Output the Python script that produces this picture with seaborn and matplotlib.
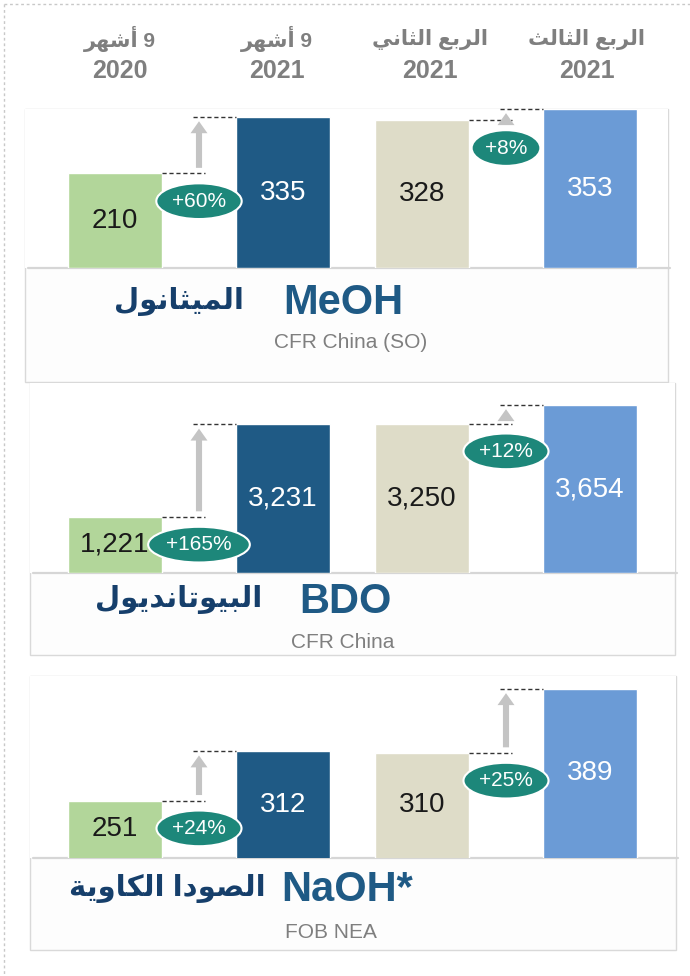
import matplotlib
matplotlib.use('Agg')
import matplotlib.pyplot as plt
import seaborn as sns

# values
periods = ['9 أشهر', '9 أشهر', 'الربع الثاني', 'الربع الثالث']
years = ['2020', '2021', '2021', '2021']
products = ['MeOH', 'BDO', 'NaOH*']
products_ar = ['الميثانول', 'البيوتانديول', 'الصودا الكاوية']
markets = ['CFR China (SO)', 'CFR China', 'FOB NEA']
meoh = [210, 335, 328, 353]
bdo = [1221, 3231, 3250, 3654]
naoh = [251, 312, 310, 389]
meoh_chg = ['+60%', '+8%']
bdo_chg = ['+165%', '+12%']
naoh_chg = ['+24%', '+25%']

series = [meoh, bdo, naoh]
changes = [meoh_chg, bdo_chg, naoh_chg]

# colours
bar_cols = ['#b2d69a', '#1f5a85', '#dedcc8', '#6b9bd6']
lbl_cols = ['#1a1a1a', 'white', '#1a1a1a', 'white']
teal = '#1d877a'
navy = '#1f5a85'
gray_txt = '#7f7f7f'

# layout, in pixels of the 690x976 picture
W, H = 690, 976
panel_box = [(25, 109, 668, 382), (30, 383, 675, 655), (30, 676, 676, 950)]
baseline_y = [268, 573, 858]
top_y = [109, 405, 689]
y_floor = [0, 0, 180]
pair_centers = [(115, 283), (422, 590)]
step = 168
bar_w = 0.554
head_x = [120, 277, 430, 587]
title_y = [303, 602, 890]
title_x = [343, 345, 347]
ar_right = [244, 262, 266]
sub_y = [342, 643, 933]
sub_x = [351, 343, 331]

sns.set_theme(style='white')
plt.rcParams['font.family'] = ['Liberation Sans', 'DejaVu Sans']

# tiny Arabic shaper: contextual forms + visual (right-to-left) order
AR = {
    'ا': 'ﺍﺎ', 'أ': 'ﺃﺄ', 'ب': 'ﺏﺐﺑﺒ', 'ة': 'ﺓﺔ', 'ت': 'ﺕﺖﺗﺘ', 'ث': 'ﺙﺚﺛﺜ',
    'د': 'ﺩﺪ', 'ر': 'ﺭﺮ', 'ش': 'ﺵﺶﺷﺸ', 'ص': 'ﺹﺺﺻﺼ', 'ع': 'ﻉﻊﻋﻌ',
    'ك': 'ﻙﻚﻛﻜ', 'ل': 'ﻝﻞﻟﻠ', 'م': 'ﻡﻢﻣﻤ', 'ن': 'ﻥﻦﻧﻨ', 'ه': 'ﻩﻪﻫﻬ',
    'و': 'ﻭﻮ', 'ي': 'ﻱﻲﻳﻴ',
}


def shape_word(w):
    out = []
    for i, ch in enumerate(w):
        if ch not in AR:
            out.append(ch)
            continue
        prev_j = i > 0 and w[i - 1] in AR and len(AR[w[i - 1]]) == 4
        next_j = i < len(w) - 1 and w[i + 1] in AR and len(AR[ch]) == 4
        f = AR[ch]
        if prev_j and next_j:
            out.append(f[3])
        elif prev_j:
            out.append(f[1])
        elif next_j:
            out.append(f[2])
        else:
            out.append(f[0])
    return ''.join(out)[::-1]


def ar(s):
    toks = [shape_word(t) if any(c in AR for c in t) else t for t in s.split(' ')]
    return ' '.join(toks[::-1])


def px_axes(x0, y0, x1, y1):
    return fig.add_axes([x0 / W, 1 - y1 / H, (x1 - x0) / W, (y1 - y0) / H])


fig = plt.figure(figsize=(W / 100, H / 100), dpi=100)
bg = px_axes(0, 0, W, H)
bg.set_xlim(0, W)
bg.set_ylim(H, 0)
bg.axis('off')

# outer dashed frame
bg.plot([4, W], [4, 4], color='#c8c8c8', lw=1, ls=(0, (2, 2)))
bg.plot([4, 4], [4, H], color='#c8c8c8', lw=1, ls=(0, (2, 2)))

# column headers
for i in range(4):
    bg.text(head_x[i], 39, ar(periods[i]), ha='center', va='center',
            fontsize=15, fontweight='bold', color=gray_txt)
    bg.text(head_x[i], 71, years[i], ha='center', va='center',
            fontsize=18, fontweight='bold', color=gray_txt)

for p in range(3):
    x0, y0, x1, y1 = panel_box[p]
    bg.add_patch(plt.Rectangle((x0, y0), x1 - x0, y1 - y0, fc='#fdfdfd',
                               ec='#d9d9d9', lw=1))
    bg.add_patch(plt.Rectangle((x0, y0), x1 - x0, baseline_y[p] - y0, fc='white',
                               ec='none'))
    bg.plot([x0 + 3, x1 + 2], [baseline_y[p]] * 2, color='#d6d6d6', lw=1.6)
    bg.text(title_x[p], title_y[p], products[p], ha='center', va='center',
            fontsize=30, fontweight='bold', color=navy)
    bg.text(ar_right[p], title_y[p] - 2, ar(products_ar[p]), ha='right', va='center',
            fontsize=21, fontweight='bold', color='#163f6b')
    bg.text(sub_x[p], sub_y[p], markets[p], ha='center', va='center',
            fontsize=15, color=gray_txt)

    vals = series[p]
    for k in range(2):
        c0, c1 = pair_centers[k]
        ax = px_axes(c0 - step / 2, top_y[p], c1 + step / 2, baseline_y[p])
        cats = [periods[2 * k + j] + ' ' + years[2 * k + j] for j in range(2)]
        v = vals[2 * k:2 * k + 2]
        sns.barplot(x=cats, y=v, hue=cats, order=cats, hue_order=cats,
                    palette=bar_cols[2 * k:2 * k + 2], width=bar_w, saturation=1,
                    errorbar=None, legend=False, ax=ax)
        ax.set_xlim(-0.5, 1.5)
        ax.set_ylim(y_floor[p], max(vals))
        ax.axis('off')
        for j, cont in enumerate(ax.containers):
            ax.bar_label(cont, labels=[f'{v[j]:,}'], label_type='center',
                         fontsize=20, color=lbl_cols[2 * k + j])
        lo, hi = v
        ax.plot([bar_w / 2, 0.535], [lo, lo], color='#333333', lw=1,
                ls=(0, (3, 2)), clip_on=False)
        ax.plot([0.465, 1 - bar_w / 2], [hi, hi], color='#333333', lw=1,
                ls=(0, (3, 2)), clip_on=False)
        ax.annotate('', xy=(0.5, hi), xytext=(0.5, lo),
                    arrowprops=dict(arrowstyle='simple,head_width=0.61,head_length=0.43,tail_width=0.22',
                                    mutation_scale=20, color='#c4c4c4', lw=0,
                                    shrinkA=4, shrinkB=3),
                    annotation_clip=False)
        ax.annotate(changes[p][k], xy=(0.5, lo), xytext=(0, -20),
                    textcoords='offset points', ha='center', va='center',
                    fontsize=15, color='white', zorder=6, annotation_clip=False,
                    bbox=dict(boxstyle='ellipse,pad=0.15', fc=teal, ec='white', lw=1.5))

fig.savefig('out.png', dpi=100)
